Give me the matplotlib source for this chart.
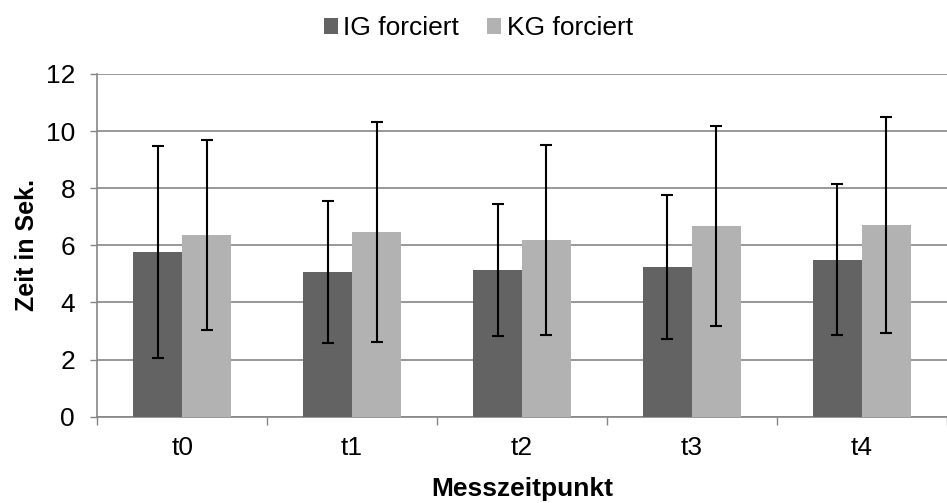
import numpy as np
import matplotlib.pyplot as plt

plt.rcParams['font.family'] = ['Liberation Sans', 'DejaVu Sans']

categories = ['t0', 't1', 't2', 't3', 't4']
ig_mean = [5.77, 5.06, 5.14, 5.24, 5.49]
ig_sd = [3.70, 2.49, 2.32, 2.52, 2.64]
kg_mean = [6.36, 6.46, 6.18, 6.69, 6.71]
kg_sd = [3.34, 3.85, 3.32, 3.50, 3.77]

fig = plt.figure(figsize=(9.47, 5.03), dpi=100)
ax = fig.add_axes([0.1027, 0.1716, 0.897, 0.6814])

x = np.arange(len(categories))
w = 0.288
err_kw = dict(ecolor='black', elinewidth=1.5, capsize=4.5, capthick=1.5)
ax.bar(x - w / 2, ig_mean, w, yerr=ig_sd, color='#636363', label='IG forciert',
       error_kw=err_kw, zorder=3)
ax.bar(x + w / 2, kg_mean, w, yerr=kg_sd, color='#b2b2b2', label='KG forciert',
       error_kw=err_kw, zorder=3)

ax.set_ylim(0, 12)
ax.set_yticks(range(0, 13, 2))
ax.set_xlim(-0.5, 4.5)
ax.set_xticks(np.arange(-0.5, 5, 1))
ax.set_xticklabels([])
ax.set_xticks(x, minor=True)
ax.set_xticklabels(categories, minor=True)
ax.tick_params(axis='x', which='major', length=6, color='#868686', width=1)
ax.tick_params(axis='x', which='minor', length=0, pad=14, labelsize=19)
ax.tick_params(axis='y', length=5, color='#868686', width=1, labelsize=19, pad=11)

ax.grid(axis='y', color='#868686', linewidth=1.2, zorder=0)
ax.set_axisbelow(True)
for s in ['top', 'right']:
    ax.spines[s].set_visible(False)
for s in ['left', 'bottom']:
    ax.spines[s].set_color('#868686')
    ax.spines[s].set_linewidth(1.2)

ax.set_ylabel('Zeit in Sek.', fontsize=18, fontweight='bold', labelpad=5)
ax.set_xlabel('Messzeitpunkt', fontsize=19, fontweight='bold', labelpad=12)

fig.legend(loc='upper center', bbox_to_anchor=(0.505, 1.015), ncol=2, frameon=False,
           fontsize=19, handlelength=0.55, handleheight=0.55, handletextpad=0.2,
           columnspacing=1.05)

fig.savefig('out.png', dpi=100)
